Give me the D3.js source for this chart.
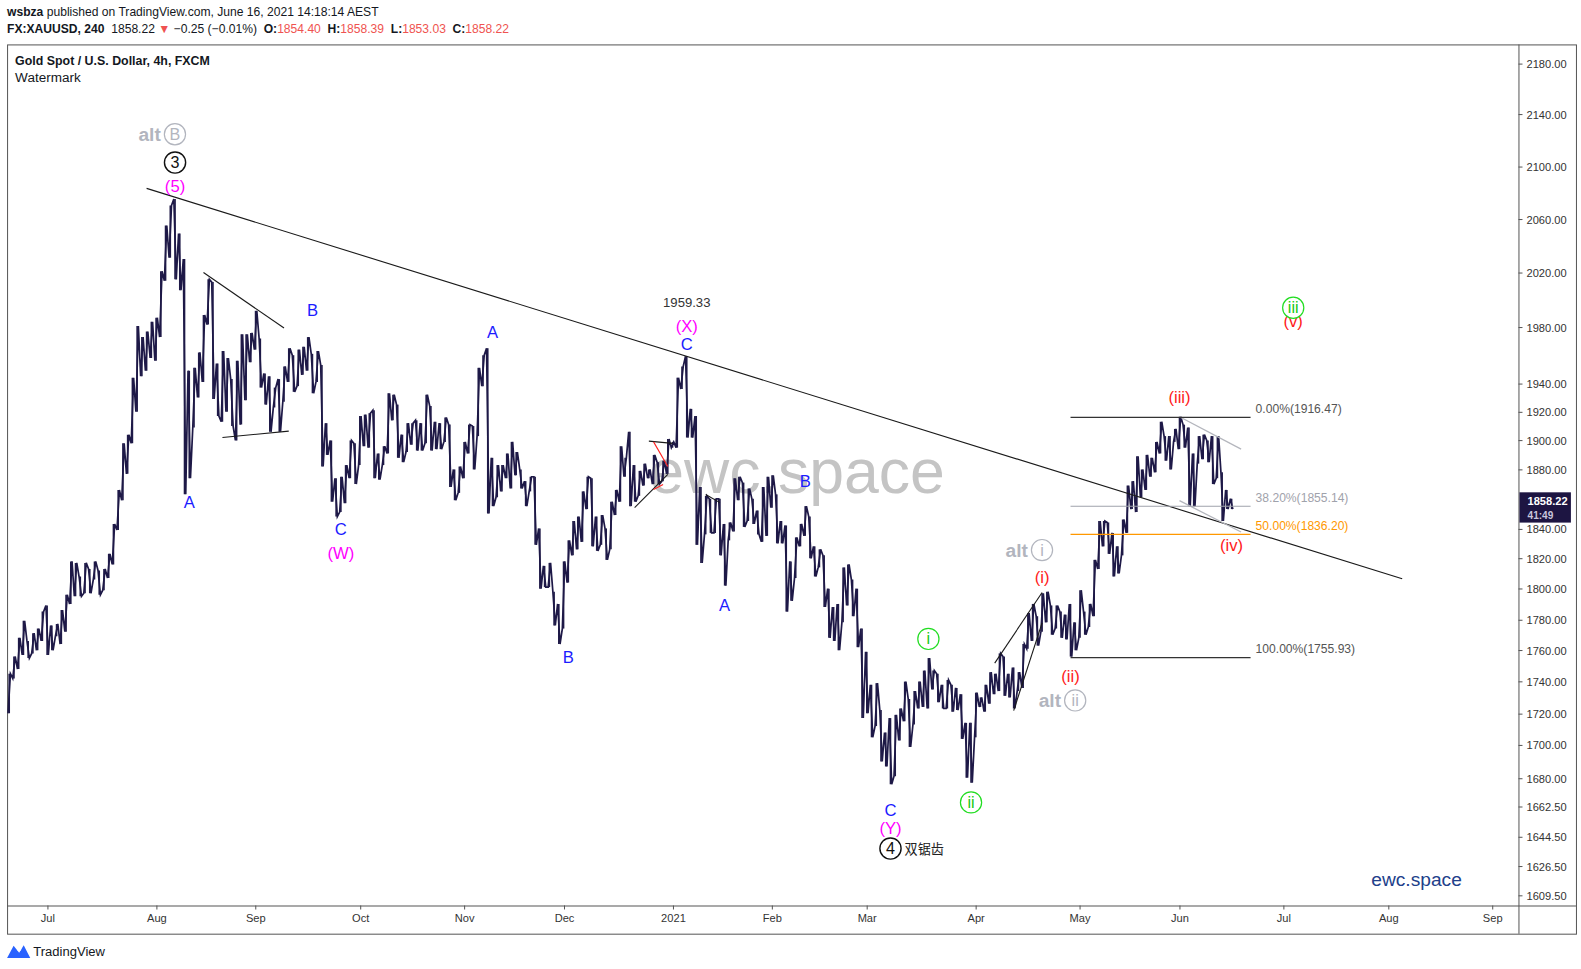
<!DOCTYPE html>
<html>
<head>
<meta charset="utf-8">
<script src="https://cdn.jsdelivr.net/npm/d3@7"></script>
<style>
  html, body { margin: 0; padding: 0; background: #fff; overflow: hidden; }
  svg { display: block; font-family: "Liberation Sans", Arial, sans-serif; }
</style>
</head>
<body>
<svg id="chart" width="1581" height="969" viewBox="0 0 1567 960" preserveAspectRatio="none"></svg>
<script>
// ---- data (one high/low pair per trading day) ----
const firstDay = "2020-06-19";
const high = [
  1745,1756,1768,1779,1766,1771,1774,1785,
  1789,1776,1777,1786,1796,1818,1817,1808,1817,1813,1818,1812,1813,1823,1843,1866,1898,1904,1944,1981,1973,1977,1984,
  1987,2021,2055,2070,2075,2049,2030,1949,1951,1962,1989,2015,2013,1954,1963,1958,1943,1956,1975,1975,1976,
  1992,1972,1947,1945,1937,1943,1952,1965,1960,1964,1966,1973,1961,1963,1953,1912,1900,1874,1875,1883,1900,1898,
  1917,1918,1919,1921,1891,1896,1933,1932,1925,1904,1912,1912,1914,1912,1932,1924,1913,1912,1916,1911,1880,1882,
  1899,1911,1910,1951,1960,1965,1888,1883,1883,1891,1899,1892,1880,1872,1875,1875,1840,1815,1817,1798,1790,
  1818,1832,1845,1848,1865,1875,1874,1848,1849,1840,1858,1866,1896,1888,1906,1883,1879,1884,1880,1890,1885,1886,1901,
  1899,1944,1952,1959.33,1922,1917,1868,1862,1860,1860,1860,1843,1844,1874,1875,1871,1867,1860,1852,1868,1875,
  1876,1863,1845,1842,1818,1834,1843,1855,1848,1828,1826,1822,1800,1788,1790,1814,1816,1806,1800,1774,
  1759,1738,1739,1722,1708,1717,1719,1723,1740,1729,1734,1740,1747,1755,1747,1745,1738,1741,1738,1736,1732,1714,1714,
  1733,1730,1738,1746,1745,1758,1756,1745,1749,1746,1764,1784,1790,1782,1797,1798,1789,1789,1785,1783,1790,1778,
  1799,1785,1790,1819,1845,1845,1844,1837,1828,1846,1869,1872,1889,1880,1890,1888,1899,1913,1903,1903,1908,
  1916.47,1911,1909,1891,1903,1904,1900,1903,1903,1878,1866,1860
];
const low = [
  1720,1742,1748,1757,1755,1758,1760,1766,
  1757,1760,1769,1764,1772,1790,1795,1795,1797,1797,1806,1796,1799,1807,1816,1839,1859,1877,1898,1920,1945,1949,1958,
  1956,1973,2014,2031,2015,2007,1863,1874,1909,1930,1941,1982,1929,1917,1913,1920,1910,1900,1911,1928,1955,
  1964,1937,1925,1906,1923,1906,1927,1941,1934,1938,1946,1949,1933,1941,1882,1890,1858,1848,1851,1857,1874,1870,
  1883,1896,1895,1874,1873,1883,1891,1914,1888,1885,1892,1897,1893,1893,1898,1893,1894,1894,1899,1868,1859,1864,
  1874,1891,1880,1903,1938,1850,1855,1861,1865,1874,1867,1876,1867,1855,1865,1829,1800,1801,1801,1776,1764,
  1774,1804,1822,1826,1831,1853,1828,1825,1829,1819,1826,1849,1858,1875,1855,1858,1862,1869,1874,1870,1870,1872,1877,
  1895,1895,1936,1902,1902,1829,1817,1836,1837,1837,1822,1802,1832,1838,1859,1841,1845,1843,1836,1831,1835,
  1854,1830,1830,1785,1792,1807,1828,1835,1820,1808,1814,1788,1768,1766,1760,1778,1789,1782,1762,1717,
  1720,1705,1712,1690,1687,1676,1681,1703,1715,1699,1713,1723,1724,1723,1735,1727,1723,1723,1721,1722,1704,1680,1677,
  1705,1724,1721,1726,1732,1734,1731,1730,1723,1734,1736,1761,1766,1763,1772,1778,1770,1774,1768,1767,1755.93,1760,
  1768,1770,1775,1782,1813,1828,1823,1808,1810,1822,1837,1853,1851,1861,1866,1875,1878,1891,1886,1880,1899,
  1894,1895,1855,1855,1884,1887,1885,1870,1874,1845,1853,1853
];
const lastClose = 1858.22;
const countdown = "41:49";

const monthStarts = ["2020-07","2020-08","2020-09","2020-10","2020-11","2020-12","2021-01",
                     "2021-02","2021-03","2021-04","2021-05","2021-06","2021-07","2021-08","2021-09"];
const priceTicks = [2180,2140,2100,2060,2020,1980,1940,1920,1900,1880,1840,1820,1800,1780,
                    1760,1740,1720,1700,1680,1662.5,1644.5,1626.5,1609.5];

const fibLevels = [
  ["0.00%", 1916.47, "top"],
  ["38.20%", 1855.14, "grey"],
  ["50.00%", 1836.20, "orange"],
  ["100.00%", 1755.93, "bottom"]
];
const fibSpan = ["2021-04-29", "2021-06-22"];

// drawn lines: [start date, start price, end date, end price, kind]
const drawings = [
  ["2020-07-30", 2083, "2021-08-05", 1806.5, "dark"],
  ["2020-08-17", 2020, "2020-09-09", 1979.5, "dark"],
  ["2020-08-21", 1902, "2020-09-10", 1906.5, "dark"],
  ["2020-12-22", 1854, "2020-12-31", 1876.6, "dark"],
  ["2020-12-25", 1899.5, "2021-01-01", 1898, "dark"],
  ["2020-12-28", 1899, "2020-12-31", 1882, "red"],
  ["2020-12-28", 1866.3, "2020-12-30", 1869.7, "red"],
  ["2021-01-12", 1862.9, "2021-01-15", 1857.4, "dark"],
  ["2021-04-07", 1751.8, "2021-04-21", 1797.5, "dark"],
  ["2021-04-13", 1721.7, "2021-04-21", 1777.7, "dark"],
  ["2021-06-01", 1916.5, "2021-06-18", 1894, "light"],
  ["2021-06-01", 1858.7, "2021-06-18", 1837.6, "light"]
];

// wave labels: [date, price, text, kind]
const waveLabels = [
  ["2020-08-04", 2124.5, "B", "alt"],
  ["2020-08-07", 2102.7, "3", "ring"],
  ["2020-08-07", 2085, "(5)", "magenta"],
  ["2020-08-12", 1858, "A", "blue"],
  ["2020-09-17", 1992.7, "B", "blue"],
  ["2020-09-25", 1839.7, "C", "blue"],
  ["2020-09-25", 1823.5, "(W)", "magenta"],
  ["2020-11-10", 1976.6, "A", "blue"],
  ["2020-12-02", 1755.6, "B", "blue"],
  ["2021-01-06", 1998.6, "1959.33", "value"],
  ["2021-01-06", 1981, "(X)", "magenta"],
  ["2021-01-06", 1967.9, "C", "blue"],
  ["2021-01-18", 1789.5, "A", "blue"],
  ["2021-02-10", 1871.8, "B", "blue"],
  ["2021-03-08", 1660.7, "C", "blue"],
  ["2021-03-08", 1649.7, "(Y)", "magenta"],
  ["2021-03-08", 1637.2, "4", "ring"],
  ["2021-03-18", 1767.3, "i", "green"],
  ["2021-03-31", 1665, "ii", "green"],
  ["2021-04-16", 1825.5, "i", "alt"],
  ["2021-04-21", 1808, "(i)", "red"],
  ["2021-04-29", 1743.5, "(ii)", "red"],
  ["2021-04-27", 1728.1, "ii", "alt"],
  ["2021-06-01", 1930.6, "(iii)", "red"],
  ["2021-06-16", 1828.9, "(iv)", "red"],
  ["2021-07-05", 1984.7, "(v)", "red"],
  ["2021-07-05", 1994.2, "iii", "green"]
];
const ringNote = "双锯齿";

// ---- layout ----
const svg = d3.select("#chart");
const plot = { left: 7, top: 44, right: 1505, bottom: 897 };
const frame = { right: 1562, bottom: 925 };

const parse = d3.timeParse("%Y-%m-%d");
const calendar = d3.timeDays(new Date(2020, 4, 1), new Date(2021, 10, 1))
  .filter(d => d.getDay() % 6 !== 0);             // bars only on weekdays
const dayIndex = d => d3.bisectLeft(calendar, d);

const x = d3.scaleLinear()
  .domain([dayIndex(new Date(2020, 6, 1)), dayIndex(new Date(2021, 8, 1))])
  .range([46.7, 1479]);
const y = d3.scaleLog().domain([1609.5, 2180]).range([887, 63]);
const xd = s => x(dayIndex(parse(s)));

const start = dayIndex(parse(firstDay));
const bars = high.map((h, i) => ({ i: start + i, h: h, l: low[i] }));

svg.append("defs").append("clipPath").attr("id", "plotClip")
  .append("rect").attr("x", plot.left).attr("y", plot.top)
  .attr("width", plot.right - plot.left).attr("height", plot.bottom - plot.top);

// frame
const fr = svg.append("g").attr("stroke", "#555").attr("fill", "none");
fr.append("rect").attr("x", plot.left + 0.5).attr("y", plot.top + 0.5)
  .attr("width", frame.right - plot.left).attr("height", frame.bottom - plot.top);
fr.append("line").attr("x1", plot.right + 0.5).attr("x2", plot.right + 0.5)
  .attr("y1", plot.top).attr("y2", frame.bottom);
fr.append("line").attr("x1", plot.left).attr("x2", frame.right)
  .attr("y1", plot.bottom + 0.5).attr("y2", plot.bottom + 0.5);

const g = svg.append("g").attr("clip-path", "url(#plotClip)");

// watermark behind the price
g.append("text").attr("x", 790).attr("y", 488).attr("text-anchor", "middle")
  .attr("font-size", 62).attr("fill", "#c4c4c4").text("ewc.space");

// price series as zig-zag through daily high/low
const pts = [];
bars.forEach((b, k) => {
  const mid = (b.h + b.l) / 2;
  const prev = k > 0 ? (bars[k - 1].h + bars[k - 1].l) / 2 : mid - 1;
  const up = mid >= prev;
  pts.push([x(b.i) - 1.2, y(up ? b.l : b.h)]);
  pts.push([x(b.i) + 1.2, y(up ? b.h : b.l)]);
});
g.append("path").attr("d", d3.line()(pts))
  .attr("fill", "none").attr("stroke", "#1e1947").attr("stroke-width", 1.7)
  .attr("stroke-linejoin", "miter");
g.append("g").selectAll("line").data(bars).join("line")
  .attr("x1", d => x(d.i)).attr("x2", d => x(d.i))
  .attr("y1", d => y(d.h)).attr("y2", d => y(d.l))
  .attr("stroke", "#1e1947").attr("stroke-width", 1.6);

// drawings
const lineColor = { dark: "#1a1a1a", red: "#ff2020", light: "#b4b6bd" };
g.append("g").selectAll("line").data(drawings).join("line")
  .attr("x1", d => xd(d[0])).attr("y1", d => y(d[1]))
  .attr("x2", d => xd(d[2])).attr("y2", d => y(d[3]))
  .attr("stroke", d => lineColor[d[4]]).attr("stroke-width", d => d[4] === "light" ? 1.3 : 1.1);

// fib retracement
const fibColor = { top: "#333", grey: "#9fa2ab", orange: "#ff9800", bottom: "#333" };
const fibText = { top: "#555", grey: "#9fa2ab", orange: "#ff9800", bottom: "#555" };
const fib = g.append("g");
fib.selectAll("line").data(fibLevels).join("line")
  .attr("x1", xd(fibSpan[0])).attr("x2", xd(fibSpan[1]))
  .attr("y1", d => Math.round(y(d[1])) + 0.5).attr("y2", d => Math.round(y(d[1])) + 0.5)
  .attr("stroke", d => fibColor[d[2]]).attr("stroke-width", d => d[2] === "grey" ? 1 : 1.2);
fib.selectAll("text").data(fibLevels).join("text")
  .attr("x", xd(fibSpan[1]) + 5).attr("y", d => y(d[1]) - 4)
  .attr("font-size", 12).attr("fill", d => fibText[d[2]])
  .text(d => `${d[0]}(${d[1].toFixed(2)})`);

// wave labels
const colors = { blue: "#1c1cff", magenta: "#ff00ff", red: "#ff1a1a", green: "#22dd22", alt: "#b2b5be" };
const lab = g.append("g");
waveLabels.forEach(([date, price, txt, kind]) => {
  const cx = xd(date), cy = y(price);
  if (kind === "ring" || kind === "green" || kind === "alt") {
    const col = kind === "ring" ? "#111" : colors[kind];
    let ox = cx;
    if (kind === "alt") {
      ox = cx + 14;
      lab.append("text").attr("x", ox - 14).attr("y", cy + 6.5).attr("text-anchor", "end")
        .attr("font-size", 19).attr("font-weight", "bold").attr("fill", col).text("alt");
    }
    lab.append("circle").attr("cx", ox).attr("cy", cy).attr("r", 10.5)
      .attr("fill", "#fff").attr("stroke", col).attr("stroke-width", kind === "ring" ? 1.4 : 1.2);
    lab.append("text").attr("x", ox).attr("y", cy + 5.5).attr("text-anchor", "middle")
      .attr("font-size", 16).attr("fill", kind === "green" ? "#14c814" : col).text(txt);
    if (kind === "ring" && txt === "4") {
      lab.append("text").attr("x", ox + 14).attr("y", cy + 5)
        .attr("font-family", "Noto Sans CJK SC").attr("font-size", 13).attr("fill", "#222").text(ringNote);
    }
  } else if (kind === "value") {
    lab.append("text").attr("x", cx).attr("y", cy + 5).attr("text-anchor", "middle")
      .attr("font-size", 13).attr("fill", "#333").text(txt);
  } else {
    lab.append("text").attr("x", cx).attr("y", cy + 6).attr("text-anchor", "middle")
      .attr("font-size", 16.5).attr("fill", colors[kind]).text(txt);
  }
});

// price axis
const ya = svg.append("g").attr("font-size", 11).attr("fill", "#333");
priceTicks.forEach(p => {
  const yy = Math.round(y(p)) + 0.5;
  ya.append("line").attr("x1", plot.right).attr("x2", plot.right + 4)
    .attr("y1", yy).attr("y2", yy).attr("stroke", "#555");
  ya.append("text").attr("x", plot.right + 8).attr("y", yy + 4).text(p.toFixed(2));
});
const tagY = y(lastClose);
svg.append("rect").attr("x", plot.right + 1).attr("y", tagY - 9).attr("width", 51).attr("height", 30)
  .attr("fill", "#1d1542");
svg.append("text").attr("x", plot.right + 9).attr("y", tagY + 4).attr("font-size", 11)
  .attr("font-weight", "bold").attr("fill", "#fff").text(lastClose.toFixed(2));
svg.append("text").attr("x", plot.right + 9).attr("y", tagY + 17).attr("font-size", 10)
  .attr("font-weight", "bold").attr("fill", "#c9c6dc").text(countdown);

// time axis
const xa = svg.append("g").attr("font-size", 11).attr("fill", "#333");
const monthParse = d3.timeParse("%Y-%m");
monthStarts.forEach(m => {
  const d = monthParse(m);
  const xx = Math.round(x(dayIndex(d))) + 0.5;
  xa.append("line").attr("x1", xx).attr("x2", xx).attr("y1", plot.bottom).attr("y2", plot.bottom + 4)
    .attr("stroke", "#555");
  xa.append("text").attr("x", xx).attr("y", plot.bottom + 16).attr("text-anchor", "middle")
    .text(d.getMonth() === 0 ? d3.timeFormat("%Y")(d) : d3.timeFormat("%b")(d));
});

// headers, laid out piece by piece
function textRow(parent, x0, y0, pieces, size) {
  let cx = x0;
  pieces.forEach(([t, bold, col]) => {
    const el = parent.append("text").attr("x", cx).attr("y", y0).attr("font-size", size)
      .attr("fill", col || "#131722").attr("xml:space", "preserve").style("white-space", "pre").text(t);
    if (bold) el.attr("font-weight", "bold");
    cx += el.node().getComputedTextLength();
  });
}
const red = "#ef5350";
const hdr = svg.append("g");
textRow(hdr, 7, 16, [["wsbza", true], [" published on TradingView.com, June 16, 2021 14:18:14 AEST", false]], 12);
textRow(hdr, 7, 33, [["FX:XAUUSD, 240", true], ["  1858.22 ", false], ["▼", false, red],
  [" −0.25 (−0.01%)  ", false], ["O:", true], ["1854.40", false, red],
  ["  H:", true], ["1858.39", false, red], ["  L:", true], ["1853.03", false, red],
  ["  C:", true], ["1858.22", false, red]], 12);

svg.append("text").attr("x", 15).attr("y", 64).attr("font-size", 13).attr("font-weight", "bold")
  .attr("fill", "#131722").attr("textLength", 193).attr("lengthAdjust", "spacingAndGlyphs")
  .text("Gold Spot / U.S. Dollar, 4h, FXCM");
svg.append("text").attr("x", 15).attr("y", 81).attr("font-size", 13).attr("fill", "#131722")
  .attr("textLength", 65).attr("lengthAdjust", "spacingAndGlyphs").text("Watermark");

// corner watermark
svg.append("text").attr("x", 1404).attr("y", 878).attr("text-anchor", "middle")
  .attr("font-size", 19).attr("fill", "#21408a").text("ewc.space");

// TradingView footer
svg.append("path").attr("d", "M7,949 L13.5,937 L19,944 L23.5,936.5 L30,949 Z").attr("fill", "#2962ff");
svg.append("circle").attr("cx", 19).attr("cy", 940).attr("r", 2.2).attr("fill", "#fff");
svg.append("text").attr("x", 33).attr("y", 947).attr("font-size", 13).attr("fill", "#131722")
  .attr("textLength", 71).attr("lengthAdjust", "spacingAndGlyphs").text("TradingView");
</script>
</body>
</html>
